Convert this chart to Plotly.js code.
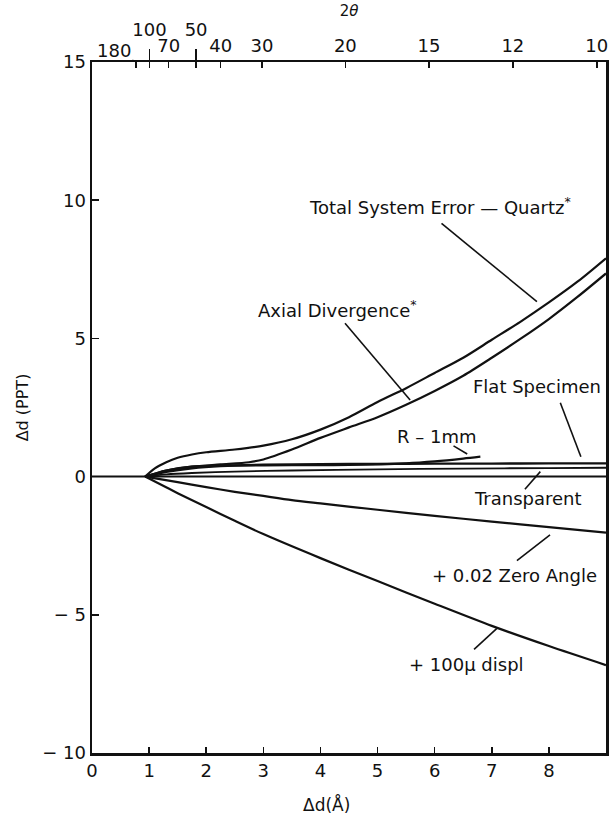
<!DOCTYPE html>
<html>
<head>
<meta charset="utf-8">
<script src="https://cdn.plot.ly/plotly-3.0.1.min.js"></script>
<style>html,body{margin:0;padding:0;background:#fff}</style>
</head>
<body>
<div id="chart" style="width:611px;height:822px"></div>
<script>
// Error contributions to d-spacing (parts per thousand) versus d (Å)
const totalX = [0.93, 1.1, 1.3, 1.5, 1.75, 2.0, 2.5, 3.0, 3.5, 4.0, 4.5, 5.0, 5.5, 6.0, 6.5, 7.0, 7.5, 8.0, 8.5, 9.0];
const totalY = [0, 0.3, 0.52, 0.68, 0.8, 0.88, 0.98, 1.12, 1.35, 1.7, 2.15, 2.7, 3.2, 3.75, 4.3, 4.95, 5.6, 6.3, 7.05, 7.9];

const axialX = [0.93, 1.3, 1.75, 2.25, 2.75, 3.0, 3.5, 4.0, 4.5, 5.0, 5.5, 6.0, 6.5, 7.0, 7.5, 8.0, 8.5, 9.0];
const axialY = [0, 0.22, 0.36, 0.44, 0.52, 0.62, 0.98, 1.4, 1.78, 2.15, 2.6, 3.1, 3.65, 4.3, 4.98, 5.7, 6.5, 7.35];

const flatX = [0.93, 1.3, 1.75, 2.25, 3, 4, 5, 6, 7, 8, 9];
const flatY = [0, 0.17, 0.3, 0.38, 0.43, 0.45, 0.46, 0.47, 0.47, 0.48, 0.48];

const roughX = [0.93, 1.3, 1.75, 2.5, 3.5, 4.5, 5.5, 6.0, 6.5, 6.8];
const roughY = [0, 0.22, 0.36, 0.4, 0.41, 0.42, 0.48, 0.55, 0.65, 0.72];

const transpX = [0.93, 1.3, 1.75, 2.5, 3.5, 5, 6.5, 8, 9];
const transpY = [0, 0.08, 0.13, 0.18, 0.22, 0.26, 0.29, 0.31, 0.32];

const zeroAngleX = [0.93, 1.5, 2.0, 2.5, 3.0, 3.5, 4.0, 5.0, 6.0, 7.0, 8.0, 9.0];
const zeroAngleY = [0, -0.2, -0.38, -0.55, -0.7, -0.85, -0.97, -1.2, -1.42, -1.63, -1.83, -2.03];

const displX = [0.93, 1.5, 2.0, 2.5, 3.0, 4.0, 5.0, 6.0, 7.0, 8.0, 9.0];
const displY = [0, -0.6, -1.1, -1.6, -2.08, -2.95, -3.78, -4.6, -5.4, -6.13, -6.82];

const baselineX = [0, 9];
const baselineY = [0, 0];

// Axis ticks
const dTicks = [0, 1, 2, 3, 4, 5, 6, 7, 8, 9];
const ppmTicks = [-10, -5, 0, 5, 10, 15];
const ppmTickText = ['\u2212 10', '\u2212 5', '0', '5', '10', '15'];

// 2θ scale along the top (Cu Kα1 radiation)
const twoTheta = [180, 100, 70, 50, 40, 30, 20, 15, 12, 10];
const majorTwoTheta = [100, 50];
const wavelength = 1.5406;
const braggD = t => wavelength / (2 * Math.sin(t / 2 * Math.PI / 180));

const FONT = 'DejaVu Sans, Liberation Sans, Arial, sans-serif';
const INK = '#111';

function curve(x, y, width) {
  return {
    x: x, y: y, type: 'scatter', mode: 'lines',
    line: {color: INK, width: width || 2.2, shape: 'spline', smoothing: 0.8},
    hoverinfo: 'skip', showlegend: false
  };
}

const traces = [
  curve(baselineX, baselineY, 2),
  curve(transpX, transpY, 1.8),
  curve(flatX, flatY, 2.4),
  curve(roughX, roughY, 2.2),
  curve(axialX, axialY, 2.2),
  curve(totalX, totalY, 2.2),
  curve(zeroAngleX, zeroAngleY, 2.2),
  curve(displX, displY, 2.2)
];

// short leader lines from each label to its curve
function leader(x0, y0, x1, y1) {
  return {type: 'line', xref: 'x', yref: 'y', x0: x0, y0: y0, x1: x1, y1: y1,
          line: {color: INK, width: 1.6}};
}
const shapes = [
  leader(6.12, 9.16, 7.79, 6.33),
  leader(4.43, 5.55, 5.57, 2.77),
  leader(8.2, 2.67, 8.56, 0.72),
  leader(6.33, 1.11, 6.57, 0.82),
  leader(7.58, -0.46, 7.85, 0.18),
  leader(7.44, -3.04, 8.02, -2.11),
  leader(6.69, -6.25, 7.09, -5.49)
];

function label(text, x, y, anchor) {
  return {text: text, x: x, y: y, xref: 'x', yref: 'y', showarrow: false,
          xanchor: anchor || 'center', yanchor: 'middle',
          font: {family: FONT, size: 18, color: INK}};
}
const annotations = [
  label('Total System Error \u2014 Quartz<sup>*</sup>', 8.42, 9.8, 'right'),
  label('Axial Divergence<sup>*</sup>', 2.88, 6.05, 'left'),
  label('Flat Specimen', 7.79, 3.25),
  label('R \u2013 1mm', 6.04, 1.44),
  label('Transparent', 7.63, -0.79),
  label('+ 0.02 Zero Angle', 7.39, -3.56),
  label('+ 100\u03bc displ', 6.55, -6.78),
  {text: String(twoTheta[0]), x: braggD(twoTheta[0]), y: 1, xref: 'x', yref: 'paper',
   showarrow: true, arrowhead: 0, arrowwidth: 1.2, arrowcolor: INK, ax: -22, ay: -12,
   standoff: 0, font: {family: FONT, size: 18, color: INK}},
  {text: '\u0394d(\u00c5)', x: 4.1, y: -0.075, xref: 'x', yref: 'paper', showarrow: false,
   xanchor: 'center', yanchor: 'middle', font: {family: FONT, size: 17, color: INK}}
];

const layout = {
  width: 611, height: 822,
  margin: {l: 92, r: 5, t: 62, b: 69},
  paper_bgcolor: '#fff', plot_bgcolor: '#fff',
  font: {family: FONT, size: 18, color: INK},
  showlegend: false,
  xaxis: {
    range: [0, 9], tickmode: 'array', tickvals: dTicks, ticktext: dTicks.map(String),
    ticks: 'inside', ticklen: 6, tickwidth: 1.5, tickcolor: INK,
    showline: true, linecolor: INK, linewidth: 2.5, mirror: true,
    showgrid: false, zeroline: false, fixedrange: true
  },
  xaxis2: {
    overlaying: 'x', side: 'top', anchor: 'y', range: [0, 9],
    tickmode: 'array', tickvals: twoTheta.map(braggD),
    ticktext: twoTheta.map(t => (t === 180 || majorTwoTheta.includes(t)) ? '' : String(t)),
    ticks: 'inside', ticklen: 6, tickwidth: 1.5, tickcolor: INK,
    showline: true, linecolor: INK, linewidth: 2.5,
    showgrid: false, zeroline: false, fixedrange: true,
    title: {text: '2<i>\u03b8</i>', font: {family: FONT, size: 15, color: INK}, standoff: 15}
  },
  xaxis3: {
    overlaying: 'x', side: 'top', anchor: 'y', range: [0, 9],
    tickmode: 'array', tickvals: majorTwoTheta.map(braggD),
    ticktext: majorTwoTheta.map(String),
    ticks: 'outside', ticklen: 12, tickwidth: 1.5, tickcolor: INK, ticklabelstandoff: 6,
    showline: false, showgrid: false, zeroline: false, fixedrange: true
  },
  yaxis: {
    range: [-10, 15], tickmode: 'array', tickvals: ppmTicks, ticktext: ppmTickText,
    ticks: 'inside', ticklen: 7, tickwidth: 1.5, tickcolor: INK,
    showline: true, linecolor: INK, linewidth: 2.5, mirror: true,
    showgrid: false, zeroline: false, fixedrange: true,
    title: {text: '\u0394d (PPT)', font: {family: FONT, size: 16, color: INK}, standoff: 10}
  },
  shapes: shapes,
  annotations: annotations
};

// invisible carriers so the overlaid top axes are laid out
traces.push({x: [0, 9], y: [0, 0], xaxis: 'x2', yaxis: 'y', mode: 'lines',
             line: {width: 0}, hoverinfo: 'skip', showlegend: false});
traces.push({x: [0, 9], y: [0, 0], xaxis: 'x3', yaxis: 'y', mode: 'lines',
             line: {width: 0}, hoverinfo: 'skip', showlegend: false});

Plotly.newPlot('chart', traces, layout, {staticPlot: true, displayModeBar: false});
</script>
</body>
</html>
